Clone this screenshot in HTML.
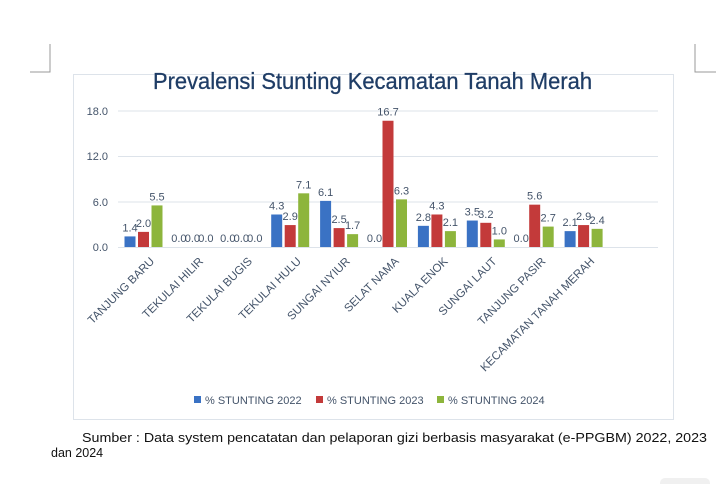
<!DOCTYPE html>
<html><head><meta charset="utf-8"><style>
body{margin:0;background:#fff;width:720px;height:484px;overflow:hidden;font-family:"Liberation Sans",sans-serif}
</style></head><body>
<svg width="720" height="484" viewBox="0 0 720 484" xmlns="http://www.w3.org/2000/svg" font-family="Liberation Sans, sans-serif">
<rect width="720" height="484" fill="#fff"/>
<path d="M50 44V72H30M695 44V72H716" stroke="#999" fill="none" stroke-width="1"/>
<rect x="73.5" y="74.5" width="600" height="345" fill="#fff" stroke="#dde3ea"/>
<text x="153" y="89" font-size="23" fill="#1f3d66" textLength="439" lengthAdjust="spacingAndGlyphs" stroke="#1f3d66" stroke-width="0.3">Prevalensi Stunting Kecamatan Tanah Merah</text>
<g stroke="#dde3ea" stroke-width="1">
<line x1="118" y1="111" x2="658" y2="111"/><line x1="118" y1="156.5" x2="658" y2="156.5"/><line x1="118" y1="202" x2="658" y2="202"/><line x1="118" y1="247.5" x2="658" y2="247.5"/>
</g>
<g font-size="11" fill="#44546a" text-anchor="end">
<text x="108" y="115">18.0</text><text x="108" y="160">12.0</text><text x="108" y="206">6.0</text><text x="108" y="251">0.0</text>
</g>
<g id="bars"></g>
<g font-size="11" fill="#44546a" text-anchor="end" id="labels"></g>
<g font-size="11" fill="#44546a">
<rect x="194" y="396" width="7" height="7" fill="#3a72c4"/><text x="205" y="404">% STUNTING 2022</text>
<rect x="316" y="396" width="7" height="7" fill="#c33a3a"/><text x="327" y="404">% STUNTING 2023</text>
<rect x="437" y="396" width="7" height="7" fill="#8db53c"/><text x="448" y="404">% STUNTING 2024</text>
</g>
<g font-size="12.5" fill="#111">
<text x="82" y="442" textLength="625" lengthAdjust="spacingAndGlyphs">Sumber : Data system pencatatan dan pelaporan gizi berbasis masyarakat (e-PPGBM) 2022, 2023</text>
<text x="51" y="457">dan 2024</text>
</g>
<rect x="660" y="478" width="50" height="10" rx="5" fill="#f0f0f0"/>
<script>
var d=[["TANJUNG BARU",1.4,2.0,5.5],["TEKULAI HILIR",0,0,0],["TEKULAI BUGIS",0,0,0],["TEKULAI HULU",4.3,2.9,7.1],["SUNGAI NYIUR",6.1,2.5,1.7],["SELAT NAMA",0,16.7,6.3],["KUALA ENOK",2.8,4.3,2.1],["SUNGAI LAUT",3.5,3.2,1.0],["TANJUNG PASIR",0,5.6,2.7],["KECAMATAN TANAH MERAH",2.1,2.9,2.4]];
var col=["#3a72c4","#c33a3a","#8db53c"],ns="http://www.w3.org/2000/svg",b=document.getElementById("bars"),L=document.getElementById("labels");
function el(t,a,p,txt){var e=document.createElementNS(ns,t);for(var k in a)e.setAttribute(k,a[k]);if(txt!=null)e.textContent=txt;p.appendChild(e);return e;}
d.forEach(function(r,i){var c=143+48.9*i;
for(var j=0;j<3;j++){var v=r[j+1],x=c-18.5+j*13.5,h=v*7.56,y=247-h;
if(h>0)el("rect",{x:x,y:y,width:11,height:h,fill:col[j]},b);
el("text",{x:x+5.5,y:y-5,"text-anchor":"middle","font-size":"11",fill:"#44546a"},b,v.toFixed(1));}
el("text",{x:c+12,y:262,transform:"rotate(-45 "+(c+12)+" 262)","font-size":"11.5",fill:"#44546a"},L,r[0]);});
</script>
</svg>
</body></html>
